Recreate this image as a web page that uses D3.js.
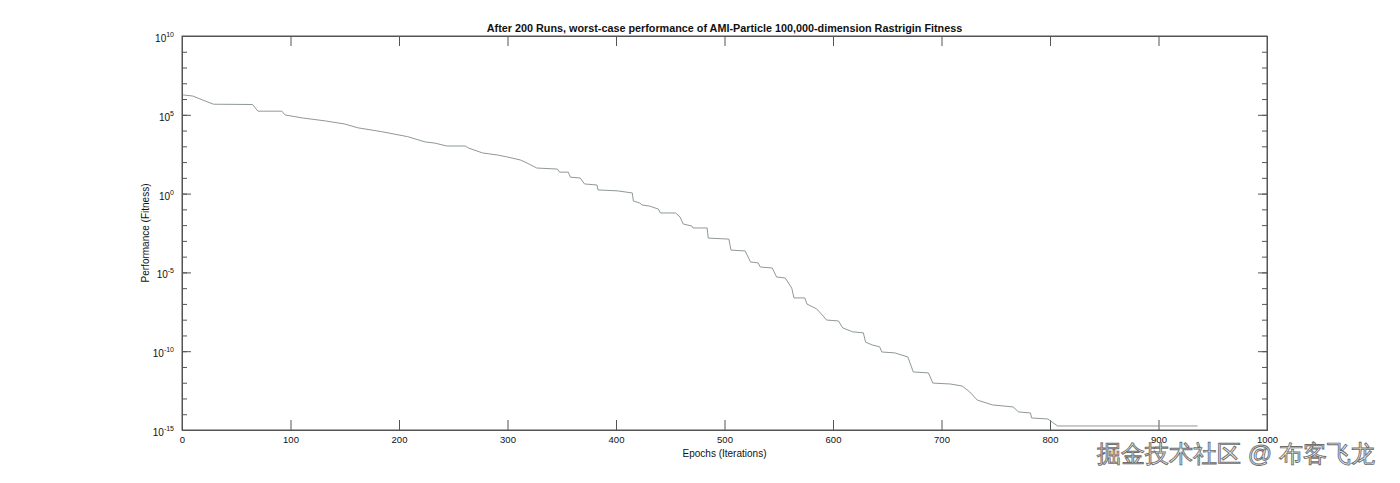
<!DOCTYPE html>
<html>
<head>
<meta charset="utf-8">
<script src="https://cdn.jsdelivr.net/npm/d3@7"></script>
<style>
  html, body { margin: 0; padding: 0; background: #fff; }
  svg { display: block; }
  text { font-family: "Liberation Sans", Arial, Helvetica, sans-serif; }
</style>
</head>
<body>
<svg id="chart" width="1400" height="483"></svg>
<script>
// ---- data ----
const titleText = "After 200 Runs, worst-case performance of AMI-Particle 100,000-dimension Rastrigin Fitness";
const xLabel = "Epochs (Iterations)";
const yLabel = "Performance (Fitness)";
const watermark = "掘金技术社区 @ 布客飞龙";

const xTicks = [0, 100, 200, 300, 400, 500, 600, 700, 800, 900, 1000];
const yMajorExps = [10, 5, 0, -5, -10, -15];

const epochs = [1, 10, 19, 29, 65, 70, 92, 95, 111, 132, 150, 162, 184, 208, 224, 233, 244, 261, 264, 277,
  291, 300, 312, 318, 327, 346, 348, 356, 358, 367, 371, 382.5, 383.4, 401, 415, 416, 422, 424, 431, 439,
  441, 455, 459, 462, 470, 471, 484, 485, 504, 506, 519, 524, 531, 533, 544, 548, 556, 562, 564, 574,
  576, 585, 591, 594, 605, 609, 618, 628, 630, 636, 643, 645, 657, 669, 674, 688, 692, 708, 719, 726,
  733, 747, 766, 771, 782, 783, 798, 802, 807, 936];
const fitness = [1.82e6, 1.55e6, 8.7e5, 4.7e5, 4.5e5, 1.7e5, 1.7e5, 9.8e4, 6.3e4, 4.1e4, 2.6e4, 1.5e4, 8.5e3, 4.1e3, 1.9e3, 1.6e3, 1.05e3, 1.05e3, 7.8e2, 3.8e2,
  2.8e2, 2.1e2, 1.35e2, 87, 42, 36, 23, 23, 11, 9.8, 4.1, 3.5, 1.7, 1.5, 1.1, 0.34, 0.25, 0.19, 0.16, 0.105,
  0.059, 0.059, 0.033, 0.0117, 0.0087, 0.0066, 0.0066, 1.5e-3, 1.3e-3, 2.6e-4, 2.3e-4, 4.6e-5, 4.0e-5, 2.2e-5, 1.9e-5, 5.1e-6, 4.4e-6, 1.0e-6, 2.4e-7, 2.4e-7,
  9.8e-8, 4.8e-8, 1.7e-8, 9.5e-9, 8.3e-9, 3.0e-9, 1.7e-9, 1.45e-9, 3.8e-10, 2.5e-10, 1.9e-10, 8.9e-11, 7.8e-11, 4.3e-11, 4.8e-12, 4.2e-12, 9.5e-13, 8.3e-13, 6.2e-13, 2.6e-13,
  7.9e-14, 3.9e-14, 2.9e-14, 1.4e-14, 1.2e-14, 5.8e-15, 5.0e-15, 3.2e-15, 1.8e-15, 1.8e-15];

// ---- layout ----
const L = 182, R = 1267, T = 36, B = 430;
const axisColor = "#555";

const svg = d3.select("#chart");
const x = d3.scaleLinear().domain([0, 1000]).range([L, R]);
const y = d3.scaleLog().domain([1e-15, 1e10]).range([B, T]);

const allDecades = d3.range(-15, 11).map(e => Math.pow(10, e));
const majorVals = yMajorExps.map(e => Math.pow(10, e));

function styleAxis(g) {
  g.selectAll("path.domain").attr("stroke", axisColor).attr("stroke-width", 1);
  g.selectAll(".tick line").attr("stroke", axisColor).attr("stroke-width", 1);
}

// x axes (bottom with labels, top without)
const gxb = svg.append("g").attr("transform", `translate(0,${B})`)
  .call(d3.axisBottom(x).tickValues(xTicks).tickSize(-10).tickPadding(6).tickFormat(d3.format("d")));
gxb.selectAll(".tick text").attr("font-size", 9.5).attr("fill", "#111")
  .attr("font-family", "'Liberation Sans', Arial, sans-serif");
styleAxis(gxb);

const gxt = svg.append("g").attr("transform", `translate(0,${T})`)
  .call(d3.axisTop(x).tickValues(xTicks).tickSize(-10).tickFormat(""));
styleAxis(gxt);

// y axes minor ticks
const gyMinL = svg.append("g").attr("transform", `translate(${L},0)`)
  .call(d3.axisLeft(y).tickValues(allDecades).tickSize(-5).tickFormat(""));
styleAxis(gyMinL);
const gyMinR = svg.append("g").attr("transform", `translate(${R},0)`)
  .call(d3.axisRight(y).tickValues(allDecades).tickSize(-5).tickFormat(""));
styleAxis(gyMinR);

// y axes major ticks
const gyL = svg.append("g").attr("transform", `translate(${L},0)`)
  .call(d3.axisLeft(y).tickValues(majorVals).tickSize(-9).tickFormat(""));
styleAxis(gyL);
const gyR = svg.append("g").attr("transform", `translate(${R},0)`)
  .call(d3.axisRight(y).tickValues(majorVals).tickSize(-9).tickFormat(""));
styleAxis(gyR);

// y major labels with superscripts
gyL.selectAll(".tick").each(function(d) {
  const e = Math.round(Math.log10(d));
  const t = d3.select(this).append("text")
    .attr("x", -8).attr("y", 5.5)
    .attr("text-anchor", "end")
    .attr("fill", "#111")
    .attr("font-size", 10)
    .attr("font-family", "'Liberation Sans', Arial, sans-serif");
  t.append("tspan").text("10");
  t.append("tspan").attr("dy", -5).attr("font-size", 7).text(String(e));
});

// box
svg.append("rect").attr("x", L).attr("y", T).attr("width", R - L).attr("height", B - T)
  .attr("fill", "none").attr("stroke", axisColor).attr("stroke-width", 1);

// data line
const pts = epochs.map((e, i) => [e, fitness[i]]);
const line = d3.line().x(d => x(d[0])).y(d => y(d[1]));
svg.append("path").datum(pts)
  .attr("d", line)
  .attr("fill", "none")
  .attr("stroke", "#8f9898")
  .attr("stroke-width", 1);

// title and labels
svg.append("text").attr("x", (L + R) / 2).attr("y", 32)
  .attr("text-anchor", "middle").attr("font-size", 10.8).attr("font-weight", "bold")
  .attr("fill", "#111").text(titleText);

svg.append("text").attr("x", (L + R) / 2).attr("y", 457)
  .attr("text-anchor", "middle").attr("font-size", 10).attr("fill", "#111").text(xLabel);

svg.append("text")
  .attr("transform", `translate(149,${(T + B) / 2}) rotate(-90)`)
  .attr("text-anchor", "middle").attr("font-size", 10).attr("fill", "#111").text(yLabel);

// watermark
svg.append("text").attr("x", 1097).attr("y", 462)
  .attr("font-family", "'Noto Sans CJK SC', sans-serif")
  .attr("font-size", 24)
  .attr("fill", "#f4f4f4").attr("stroke", "#6e6e6e").attr("stroke-width", 0.9)
  .text(watermark);
</script>
</body>
</html>
